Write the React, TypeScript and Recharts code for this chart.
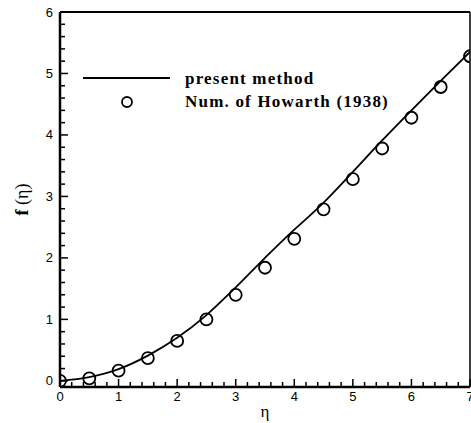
import React from 'react';
import { ComposedChart, Line, Scatter, XAxis, YAxis, ReferenceLine } from 'recharts';

// present method, f(eta)
const etaLine = [0, 0.5, 1, 1.5, 2, 2.5, 3, 3.5, 4, 4.2, 4.5, 5, 5.5, 6, 6.5, 7];
const fLine = [0, 0.06, 0.19, 0.41, 0.7, 1.07, 1.52, 2.0, 2.46, 2.63, 2.9, 3.4, 3.91, 4.4, 4.88, 5.35];

// Howarth (1938)
const etaHowarth = [0, 0.5, 1, 1.5, 2, 2.5, 3, 3.5, 4, 4.5, 5, 5.5, 6, 6.5, 7];
const fHowarth = [0, 0.04, 0.166, 0.37, 0.65, 1.0, 1.4, 1.84, 2.31, 2.79, 3.28, 3.78, 4.28, 4.78, 5.28];

const xTicks = [
  0, 0.2, 0.4, 0.6, 0.8, 1, 1.2, 1.4, 1.6, 1.8, 2, 2.2, 2.4, 2.6, 2.8, 3, 3.2, 3.4,
  3.6, 3.8, 4, 4.2, 4.4, 4.6, 4.8, 5, 5.2, 5.4, 5.6, 5.8, 6, 6.2, 6.4, 6.6, 6.8, 7,
];
const yTicks = [
  0, 0.2, 0.4, 0.6, 0.8, 1, 1.2, 1.4, 1.6, 1.8, 2, 2.2, 2.4, 2.6, 2.8, 3, 3.2, 3.4,
  3.6, 3.8, 4, 4.2, 4.4, 4.6, 4.8, 5, 5.2, 5.4, 5.6, 5.8, 6,
];

const legendLabels = ['present method', 'Num. of Howarth (1938)'];

const lineData = etaLine.map((eta, i) => ({ eta, f: fLine[i] }));
const howarthData = etaHowarth.map((eta, i) => ({ eta, f: fHowarth[i] }));

const isMajor = (v: number) => Math.abs(v - Math.round(v)) < 1e-6;
const tickFont = { fontFamily: 'Liberation Sans, Arial, sans-serif', fontSize: 13 };
const serif = 'Liberation Serif, Times New Roman, serif';

const YTick = (props: any) => {
  const { x, y, payload } = props;
  const major = isMajor(payload.value);
  return (
    <g>
      <line x1={x} y1={y} x2={x + (major ? 8 : 5)} y2={y} stroke="#000" strokeWidth={1.5} />
      {major && (
        <text x={x - 7} y={y} textAnchor="end" dominantBaseline="central" fill="#000" style={tickFont}>
          {Math.round(payload.value)}
        </text>
      )}
    </g>
  );
};

const XTick = (props: any) => {
  const { x, y, payload } = props;
  const major = isMajor(payload.value);
  return (
    <g>
      <line x1={x} y1={y} x2={x} y2={y - (major ? 8 : 5)} stroke="#000" strokeWidth={1.5} />
      {major && (
        <text x={x} y={y + 14} textAnchor="middle" fill="#000" style={tickFont}>
          {Math.round(payload.value)}
        </text>
      )}
    </g>
  );
};

const Circle = (props: any) => (
  <circle cx={props.cx} cy={props.cy} r={6} fill="none" stroke="#000" strokeWidth={1.8} />
);

const YLabel = () => (
  <text
    x={22}
    y={199.5}
    transform="rotate(-90 22 199.5)"
    textAnchor="middle"
    dominantBaseline="central"
    fill="#000"
    style={{ fontFamily: serif, fontSize: 18 }}
  >
    <tspan fontWeight="bold">f</tspan>
    <tspan> (η)</tspan>
  </text>
);

const LegendBox = () => (
  <svg width={340} height={50} style={{ position: 'absolute', left: 80, top: 66, overflow: 'visible' }}>
    <line x1={3} y1={12} x2={90} y2={12} stroke="#000" strokeWidth={1.8} />
    <circle cx={47} cy={36} r={5} fill="none" stroke="#000" strokeWidth={1.8} />
    <g style={{ fontFamily: serif, fontSize: 17, fontWeight: 'bold', letterSpacing: 1.2 }}>
      <text x={105} y={18} fill="#000">{legendLabels[0]}</text>
      <text x={105} y={41} fill="#000">{legendLabels[1]}</text>
    </g>
  </svg>
);

export default function App() {
  return (
    <div style={{ position: 'absolute', left: 0, top: 0, width: 471, height: 423, background: '#fff' }}>
      <ComposedChart width={471} height={423} margin={{ top: 12, right: 1, left: 0, bottom: 0 }}>
        <XAxis
          type="number"
          dataKey="eta"
          domain={[0, 7]}
          ticks={xTicks}
          interval={0}
          height={36}
          tickSize={0}
          tickMargin={0}
          tickLine={false}
          tick={<XTick />}
          axisLine={{ stroke: '#000', strokeWidth: 2.5 }}
          allowDataOverflow
          label={{ value: 'η', position: 'insideBottom', offset: 6, fill: '#000', fontSize: 17, fontFamily: serif }}
        />
        <YAxis
          type="number"
          dataKey="f"
          domain={[-0.1, 6]}
          ticks={yTicks}
          interval={0}
          width={60}
          tickSize={0}
          tickMargin={0}
          tickLine={false}
          tick={<YTick />}
          axisLine={{ stroke: '#000', strokeWidth: 2.5 }}
          allowDataOverflow
          label={<YLabel />}
        />
        <ReferenceLine y={6} stroke="#000" strokeWidth={2} />
        <ReferenceLine x={7} stroke="#000" strokeWidth={1.5} />
        <Line
          data={lineData}
          dataKey="f"
          type="monotone"
          stroke="#000"
          strokeWidth={1.8}
          dot={false}
          isAnimationActive={false}
        />
        <Scatter data={howarthData} dataKey="f" shape={<Circle />} isAnimationActive={false} />
      </ComposedChart>
      <LegendBox />
    </div>
  );
}
